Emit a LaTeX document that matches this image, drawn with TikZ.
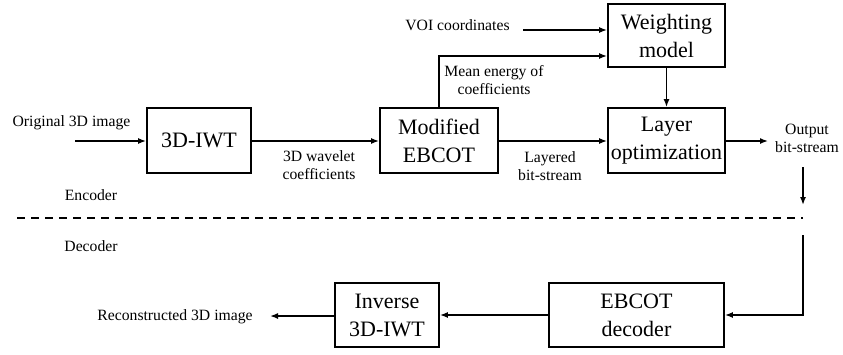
\documentclass[tikz,border=0pt]{standalone}
\usepackage{fontspec}
\setmainfont{Liberation Serif}
\usetikzlibrary{arrows.meta}
\begin{document}
\begin{tikzpicture}[x=1pt,y=-1pt,
  blk/.style={draw,line width=1.8pt,rectangle,inner sep=0pt,align=center,font=\fontsize{22}{28}\selectfont},
  lbl/.style={inner sep=0pt,align=center,font=\fontsize{15.7}{18}\selectfont},
  conn/.style={line width=1.5pt,-{Latex[length=8pt,width=6pt]}},
  plain/.style={line width=1.5pt}]
\useasboundingbox (0,0) rectangle (843,354);
% blocks
\node[blk,minimum width=104pt,minimum height=65pt] (iwt) at (199,140.5) {3D-IWT};
\node[blk,minimum width=118pt,minimum height=65pt] (meb) at (439,140.5) {Modified\\EBCOT};
\node[blk,minimum width=117pt,minimum height=63pt] (wm) at (666.5,35.5) {Weighting\\model};
\node[blk,minimum width=117pt,minimum height=65pt] (lo) at (666.5,140.5) {Layer\\optimization};
\node[blk,minimum width=104pt,minimum height=64pt] (inv) at (387,315) {Inverse\\3D-IWT};
\node[blk,minimum width=175pt,minimum height=64pt] (ebd) at (636.5,315) {EBCOT\\decoder};
% labels
\node[lbl] (orig) at (71.5,123) {Original 3D image};
\node[lbl] (wave) at (319,165) {3D wavelet\\coefficients};
\node[lbl] (enc) at (91,195) {Encoder};
\node[lbl] (voi) at (457.5,25) {VOI coordinates};
\node[lbl] (mean) at (494,80) {Mean energy of\\coefficients};
\node[lbl] (layered) at (550,166) {Layered\\bit-stream};
\node[lbl] (out) at (807,138.5) {Output\\bit-stream};
\node[lbl] (dec) at (91,246) {Decoder};
\node[lbl] (recon) at (175,317) {Reconstructed 3D image};
% free ends
\coordinate (in0) at (75,141);
\coordinate (outtip) at (768,141);
\coordinate (voi0) at (523,30);
\coordinate (mtop) at (439,56);
\coordinate (d1) at (803,167);
\coordinate (d2) at (803,205);
\coordinate (dl) at (17,218);
\coordinate (dr) at (803,218);
\coordinate (r1) at (803,235);
\coordinate (rtip) at (270,316);
% connectors
\draw[conn] (in0) -- (in0 -| iwt.west);
\draw[conn] (iwt.east |- in0) -- (in0 -| meb.west);
\draw[conn] (meb.east |- in0) -- (in0 -| lo.west);
\draw[conn] (lo.east |- in0) -- (outtip);
\draw[conn] (voi0) -- (voi0 -| wm.west);
\draw[conn] (meb.north) -- (mtop) -- (mtop -| wm.west);
\draw[conn] (wm.south) -- (lo.north);
\draw[conn] (d1) -- (d2);
\draw[plain,dash pattern=on 8pt off 6pt] (dl) -- (dr);
\draw[conn] (r1) |- (ebd.east);
\draw[conn] (ebd.west) -- (inv.east);
\draw[conn] (rtip -| inv.west) -- (rtip);
\end{tikzpicture}
\end{document}
